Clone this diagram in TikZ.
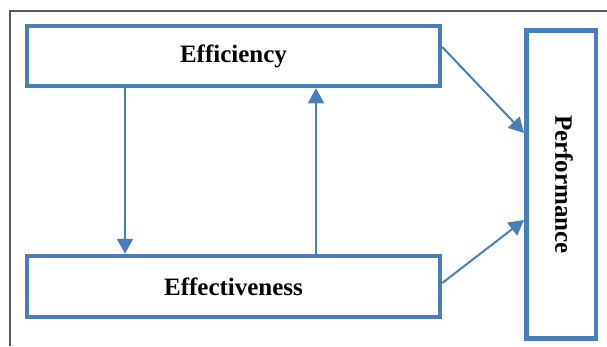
\documentclass[tikz,border=0pt]{standalone}
\usepackage{fontspec}
\setmainfont{Liberation Serif}
\usetikzlibrary{arrows.meta}
\definecolor{boxblue}{RGB}{74,126,187}
\definecolor{framegray}{RGB}{90,90,90}
\tikzset{
	block/.style={draw=boxblue, line width=4.5pt, font=\fontsize{25}{30}\selectfont\bfseries},
	link/.style={draw=boxblue, line width=2pt, -{Triangle[length=15pt,width=16pt]}}
}

\begin{document}
\begin{tikzpicture}[x=1pt,y=-1pt]
			\useasboundingbox (0,0) rectangle (607,346);
			\draw[framegray, line width=1.2pt] (10,346) -- (10,11) -- (607,11);
			
			\node[block, minimum width=413pt, minimum height=60pt] (effi) at (233.5,56) {Efficiency};
			\node[block, minimum width=413pt, minimum height=61pt] (effe) at (233.5,286.5) {Effectiveness};
			\node[block, minimum width=69.5pt, minimum height=308pt] (perf) at (561,184.5) {};
			\node[rotate=-90, font=\fontsize{25}{30}\selectfont\bfseries] (perflabel) at ([xshift=3pt]perf.center) {Performance};
			
			\draw[link] ([xshift=-108.5pt]effi.south) -- ([xshift=-108.5pt]effe.north);
			\draw[link] ([xshift=82.5pt]effe.north) -- ([xshift=82.5pt]effi.south);
			
			\draw[link] ([yshift=9pt]effi.east) -- ([yshift=51.5pt]perf.west);
			\draw[link] ([yshift=3.5pt]effe.east) -- ([yshift=-35.5pt]perf.west);
\end{tikzpicture}
\end{document}
